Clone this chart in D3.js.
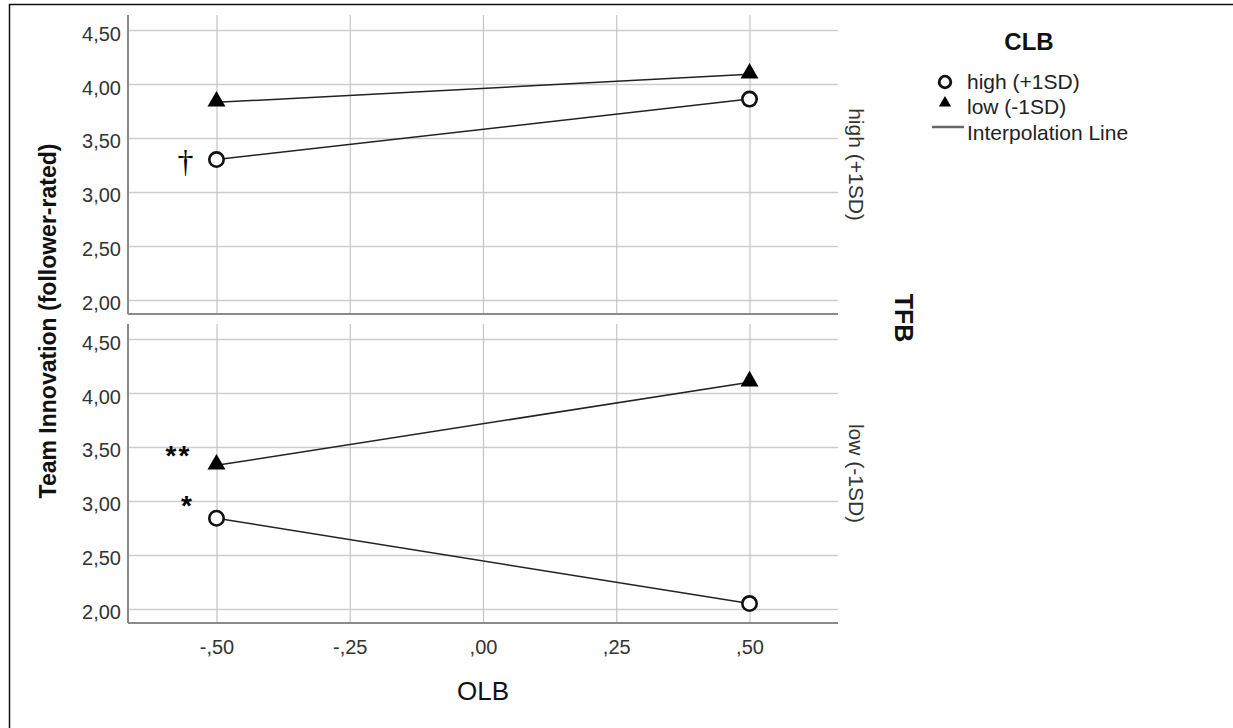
<!DOCTYPE html>
<html>
<head>
<meta charset="utf-8">
<script src="https://cdn.jsdelivr.net/npm/d3@7"></script>
<style>
  body { margin: 0; background: #fff; }
  svg { display: block; font-family: "Liberation Sans", Arial, sans-serif; }
</style>
</head>
<body>
<div id="chart"></div>
<script>
// Data
var olbLevels = [-0.5, 0.5];
var xTicks = [-0.5, -0.25, 0, 0.25, 0.5];
var yTicks = [2, 2.5, 3, 3.5, 4, 4.5];
var tfbPanels = ["high (+1SD)", "low (-1SD)"];
var clbGroups = ["high (+1SD)", "low (-1SD)"];
// values per panel (TFB high, TFB low), per CLB group
var tfbHighClbHigh = [3.30, 3.86];
var tfbHighClbLow = [3.83, 4.09];
var tfbLowClbHigh = [2.84, 2.05];
var tfbLowClbLow = [3.33, 4.10];
// significance marks at OLB = -,50
var sigMarks = [["†", ""], ["*", "**"]];

var svgWidth = 1233;
var svgHeight = 728;

var svg = d3.select("#chart")
  .append("svg")
  .attr("width", svgWidth)
  .attr("height", svgHeight);

// outer frame
svg.append("rect")
  .attr("x", 9.5).attr("y", 4.5)
  .attr("width", 1240).attr("height", 740)
  .attr("fill", "none")
  .attr("stroke", "#111")
  .attr("stroke-width", 1.5);

var plotLeft = 128, plotRight = 838;
var panelTops = [15, 324];
var panelH = 299;

var x = d3.scaleLinear().domain([-0.666, 0.666]).range([plotLeft, plotRight]);
var y = d3.scaleLinear().domain([1.87, 4.639]).range([panelH, 0]);

// SPSS style: comma decimal, no leading zero, plain hyphen minus
var locale = d3.formatLocale({decimal: ",", thousands: ".", grouping: [3], currency: ["", ""], minus: "-"});
function fmt(v) {
  return locale.format(".2f")(v).replace(/^(-?)0,/, "$1,");
}

var values = [
  [tfbHighClbHigh, tfbHighClbLow],
  [tfbLowClbHigh, tfbLowClbLow]
];

var triPath = d3.symbol().type(d3.symbolTriangle).size(140)();
var line = d3.line().x((d, i) => x(olbLevels[i])).y(d => y(d));

tfbPanels.forEach(function(panel, p) {
  var g = svg.append("g").attr("transform", `translate(0, ${panelTops[p]})`);

  // horizontal gridlines
  g.append("g")
    .attr("transform", `translate(${plotLeft}, 0)`)
    .call(d3.axisLeft(y).tickValues(yTicks).tickSize(-(plotRight - plotLeft)).tickFormat(""))
    .call(a => a.select(".domain").remove())
    .selectAll("line").attr("stroke", "#cdcdcd").attr("stroke-width", 1.5);

  // vertical gridlines
  g.append("g")
    .attr("transform", `translate(0, ${panelH})`)
    .call(d3.axisBottom(x).tickValues(xTicks).tickSize(-panelH).tickFormat(""))
    .call(a => a.select(".domain").remove())
    .selectAll("line").attr("stroke", "#c4c4c4").attr("stroke-width", 1.2);

  // y tick labels
  g.append("g")
    .attr("transform", `translate(${plotLeft}, 0)`)
    .call(d3.axisLeft(y).tickValues(yTicks).tickSize(0).tickPadding(7).tickFormat(fmt))
    .call(a => a.select(".domain").remove())
    .selectAll("text")
    .attr("dy", "0.5em")
    .style("font-size", "20px")
    .style("font-family", "'Liberation Sans', Arial, sans-serif")
    .attr("fill", "#333");

  // axis lines
  g.append("line")
    .attr("x1", plotLeft).attr("x2", plotLeft)
    .attr("y1", 0).attr("y2", panelH)
    .attr("stroke", "#8a8a8a").attr("stroke-width", 2);
  g.append("line")
    .attr("x1", plotLeft).attr("x2", plotRight)
    .attr("y1", panelH).attr("y2", panelH)
    .attr("stroke", "#8a8a8a").attr("stroke-width", 2);

  // interpolation lines
  values[p].forEach(function(vals) {
    g.append("path")
      .attr("d", line(vals))
      .attr("fill", "none")
      .attr("stroke", "#222")
      .attr("stroke-width", 1.5);
  });

  // CLB high -> open circle
  g.selectAll(".circ")
    .data(values[p][0])
    .enter()
    .append("circle")
    .attr("class", "circ")
    .attr("cx", (d, i) => x(olbLevels[i]))
    .attr("cy", d => y(d))
    .attr("r", 7.2)
    .attr("fill", "#fff")
    .attr("stroke", "#111")
    .attr("stroke-width", 2.6);

  // CLB low -> filled triangle
  g.selectAll(".tri")
    .data(values[p][1])
    .enter()
    .append("path")
    .attr("class", "tri")
    .attr("d", triPath)
    .attr("transform", (d, i) => `translate(${x(olbLevels[i])}, ${y(d) - 1})`)
    .attr("fill", "#000");

  // significance marks
  values[p].forEach(function(vals, k) {
    var mark = sigMarks[p][k];
    if (!mark) return;
    var px = x(olbLevels[0]), py = y(vals[0]);
    if (mark === "†") {
      g.append("text")
        .attr("x", px - 31).attr("y", py + 12)
        .attr("text-anchor", "middle")
        .style("font-family", "'Liberation Serif', 'Times New Roman', serif")
        .style("font-size", "32px")
        .text(mark);
    } else {
      g.append("text")
        .attr("x", mark === "**" ? px - 38 : px - 30)
        .attr("y", mark === "**" ? py - 0 : py - 3)
        .attr("text-anchor", "middle")
        .attr("letter-spacing", mark === "**" ? "2px" : "0px")
        .style("font-size", "28px")
        .style("font-weight", "bold")
        .text(mark);
    }
  });

  // panel strip label
  svg.append("text")
    .attr("transform", `translate(856, ${panelTops[p] + panelH / 2}) rotate(90)`)
    .attr("text-anchor", "middle")
    .attr("dominant-baseline", "central")
    .style("font-size", "21px")
    .attr("fill", "#333")
    .text(panel);
});

// x axis tick labels under bottom panel
svg.append("g")
  .attr("transform", `translate(0, ${panelTops[1] + panelH})`)
  .call(d3.axisBottom(x).tickValues(xTicks).tickSize(0).tickPadding(17).tickFormat(fmt))
  .call(a => a.select(".domain").remove())
  .selectAll("text")
  .style("font-size", "20px")
  .style("font-family", "'Liberation Sans', Arial, sans-serif")
  .attr("fill", "#333");

// axis titles
svg.append("text")
  .attr("x", x(0)).attr("y", 700)
  .attr("text-anchor", "middle")
  .style("font-size", "26px")
  .attr("fill", "#111")
  .text("OLB");

svg.append("text")
  .attr("transform", "translate(48, 321) rotate(-90)")
  .attr("text-anchor", "middle")
  .attr("dominant-baseline", "central")
  .style("font-size", "23px")
  .style("font-weight", "bold")
  .attr("fill", "#111")
  .text("Team Innovation (follower-rated)");

svg.append("text")
  .attr("transform", "translate(904, 318) rotate(90)")
  .attr("text-anchor", "middle")
  .attr("dominant-baseline", "central")
  .style("font-size", "25px")
  .style("font-weight", "bold")
  .attr("fill", "#111")
  .text("TFB");

// legend
var legend = svg.append("g");
legend.append("text")
  .attr("x", 1029).attr("y", 50)
  .attr("text-anchor", "middle")
  .style("font-size", "24px")
  .style("font-weight", "bold")
  .attr("fill", "#111")
  .text("CLB");

var legendRows = [81, 106, 132];
legend.append("circle")
  .attr("cx", 945).attr("cy", legendRows[0] + 1)
  .attr("r", 5.8)
  .attr("fill", "#fff").attr("stroke", "#111").attr("stroke-width", 2.8);
legend.append("path")
  .attr("d", d3.symbol().type(d3.symbolTriangle).size(64)())
  .attr("transform", `translate(945, ${legendRows[1] - 3})`)
  .attr("fill", "#000");
legend.append("line")
  .attr("x1", 932).attr("x2", 964)
  .attr("y1", legendRows[2] - 5).attr("y2", legendRows[2] - 5)
  .attr("stroke", "#666").attr("stroke-width", 2.5);

legend.selectAll(".lt")
  .data(clbGroups.concat(["Interpolation Line"]))
  .enter()
  .append("text")
  .attr("class", "lt")
  .attr("x", 967)
  .attr("y", (d, i) => legendRows[i])
  .attr("dominant-baseline", "central")
  .style("font-size", "21px")
  .attr("fill", "#222")
  .text(d => d);
</script>
</body>
</html>
